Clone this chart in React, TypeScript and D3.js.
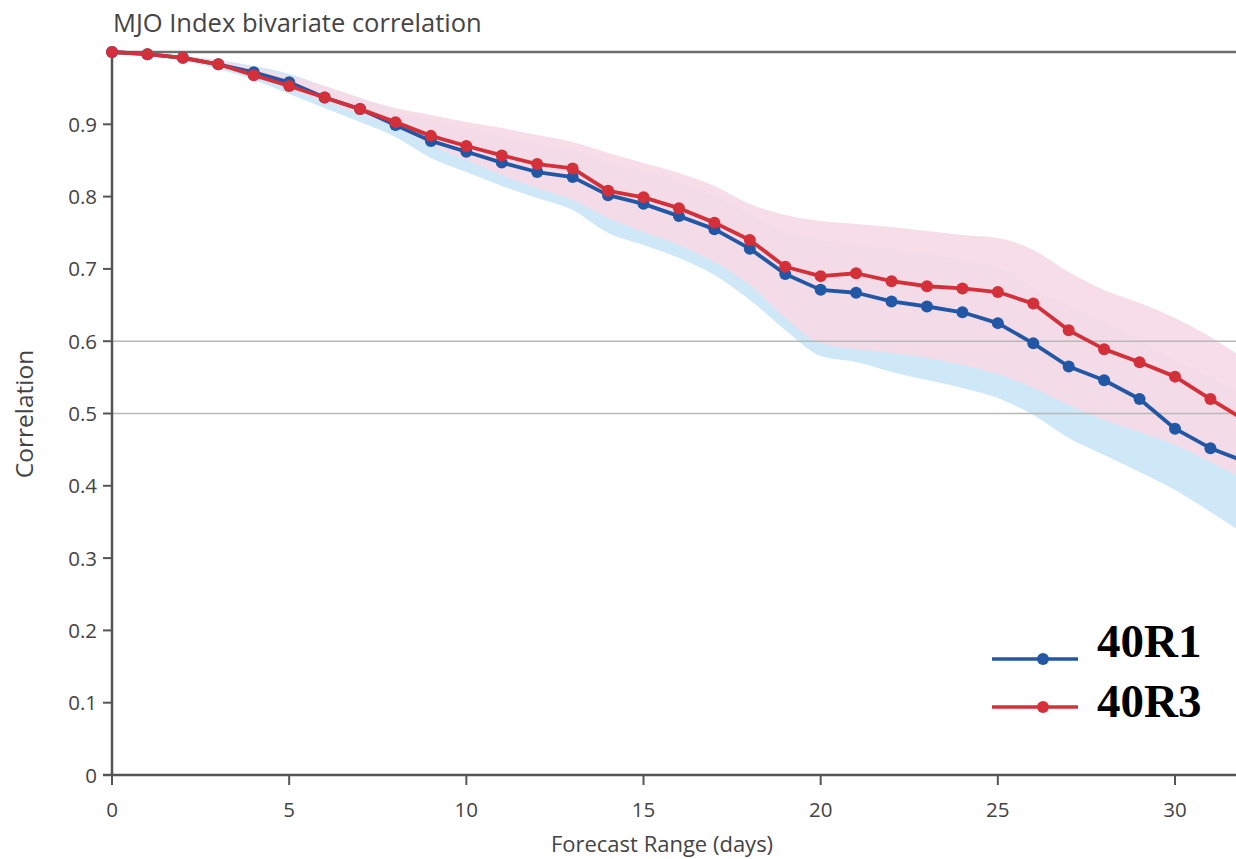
import React from "react";
import * as d3 from "d3";

const days = d3.range(0, 33);
const r1 = [1.0, 0.997, 0.992, 0.983, 0.972, 0.958, 0.937, 0.921, 0.899, 0.877, 0.862, 0.847, 0.834, 0.827, 0.802, 0.79, 0.773, 0.755, 0.728, 0.693, 0.671, 0.667, 0.655, 0.648, 0.64, 0.625, 0.597, 0.565, 0.546, 0.52, 0.479, 0.452, 0.433];
const r3 = [1.0, 0.997, 0.992, 0.983, 0.968, 0.953, 0.937, 0.921, 0.903, 0.884, 0.87, 0.857, 0.845, 0.839, 0.808, 0.799, 0.784, 0.764, 0.74, 0.703, 0.69, 0.694, 0.683, 0.676, 0.673, 0.668, 0.652, 0.615, 0.589, 0.571, 0.551, 0.52, 0.49];
const r1Hi = [1.0, 0.9986, 0.9945, 0.9889, 0.9806, 0.9696, 0.953, 0.9364, 0.9198, 0.9059, 0.8949, 0.8838, 0.8728, 0.8645, 0.8479, 0.834, 0.8202, 0.8008, 0.7759, 0.751, 0.74, 0.7344, 0.7261, 0.7206, 0.7123, 0.7012, 0.6736, 0.65, 0.6266, 0.6017, 0.574, 0.5491, 0.5256];
const r1Lo = [1.0, 0.9959, 0.9876, 0.9765, 0.9613, 0.9419, 0.9225, 0.9032, 0.8824, 0.8534, 0.834, 0.8147, 0.7981, 0.7815, 0.7497, 0.7331, 0.7151, 0.6916, 0.657, 0.6155, 0.5795, 0.5712, 0.5574, 0.5463, 0.5353, 0.5214, 0.4979, 0.4661, 0.4426, 0.4191, 0.3942, 0.3638, 0.332];
const r3Hi = [1.0, 0.9986, 0.9945, 0.9876, 0.9779, 0.9668, 0.953, 0.9364, 0.9225, 0.9129, 0.9032, 0.8949, 0.8852, 0.8755, 0.8603, 0.8465, 0.8326, 0.8147, 0.7898, 0.7746, 0.7663, 0.7621, 0.758, 0.7524, 0.7469, 0.7427, 0.7261, 0.6957, 0.6708, 0.6528, 0.6321, 0.6058, 0.574];
const r3Lo = [1.0, 0.9959, 0.9889, 0.9793, 0.9668, 0.9502, 0.9308, 0.9142, 0.8963, 0.8714, 0.8506, 0.8299, 0.8119, 0.7953, 0.7704, 0.751, 0.7331, 0.7095, 0.6777, 0.6321, 0.5975, 0.5892, 0.5837, 0.5768, 0.5671, 0.5546, 0.5353, 0.5118, 0.491, 0.4744, 0.4564, 0.4329, 0.408];
const yTicks = [0, 0.1, 0.2, 0.3, 0.4, 0.5, 0.6, 0.7, 0.8, 0.9];
const xTicks = [0, 5, 10, 15, 20, 25, 30];
const gridVals = [0.5, 0.6];
const seriesNames = ["40R1", "40R3"];

const W = 1236;
const H = 859;
const FONT = "'Open Sans', 'Noto Sans', sans-serif";
const BLUE = "#2257a6";
const RED = "#d3303a";

export default function App() {
  const x = d3.scaleLinear().domain([0, 30]).range([112, 1175]);
  const y = d3.scaleLinear().domain([0, 1]).range([775, 52]);

  const line = (vals: number[]) =>
    d3.line<number>().x((_, i) => x(days[i])).y((v) => y(v))(vals) || "";
  const band = (lo: number[], hi: number[]) =>
    d3
      .area<number>()
      .x((d) => x(d))
      .y0((d) => y(lo[d]))
      .y1((d) => y(hi[d]))
      .curve(d3.curveMonotoneX)(days) || "";

  const series = [
    { name: seriesNames[0], vals: r1, color: BLUE },
    { name: seriesNames[1], vals: r3, color: RED },
  ];

  return (
    <svg
      width={W}
      height={H}
      style={{ position: "absolute", left: 0, top: 0, background: "#fff" }}
    >
      <rect x={0} y={0} width={W} height={H} fill="#fff" />
      <text x={113} y={32} fontFamily={FONT} fontSize={25.5} fill="#444">
        MJO Index bivariate correlation
      </text>

      <path d={band(r1Lo, r1Hi)} fill="#cfe8f8" />
      <path d={band(r3Lo, r3Hi)} fill="#f5dae5" opacity={0.93} />

      {gridVals.map((g) => (
        <line key={g} x1={x(0)} x2={W} y1={y(g)} y2={y(g)} stroke="#b8b8b8" strokeWidth={1.5} />
      ))}

      <line x1={x(0)} x2={W} y1={y(1)} y2={y(1)} stroke="#6e6e6e" strokeWidth={2.5} />
      <line x1={x(0)} x2={x(0)} y1={y(1)} y2={y(0)} stroke="#555" strokeWidth={2.5} />
      <line x1={103} x2={W} y1={y(0)} y2={y(0)} stroke="#555" strokeWidth={2.5} />

      {yTicks.map((t) => (
        <g key={t}>
          <line x1={103} x2={x(0)} y1={y(t)} y2={y(t)} stroke="#555" strokeWidth={2} />
          <text x={97} y={y(t) + 7.5} textAnchor="end" fontFamily={FONT} fontSize={20.5} fill="#444">
            {t === 0 ? "0" : t.toFixed(1)}
          </text>
        </g>
      ))}
      {xTicks.map((t) => (
        <g key={t}>
          <line x1={x(t)} x2={x(t)} y1={y(0)} y2={y(0) + 10} stroke="#555" strokeWidth={2} />
          <text x={x(t)} y={817} textAnchor="middle" fontFamily={FONT} fontSize={20.5} fill="#444">
            {t}
          </text>
        </g>
      ))}
      <text x={662} y={852} textAnchor="middle" fontFamily={FONT} fontSize={22} fill="#444">
        Forecast Range (days)
      </text>
      <text
        transform={`translate(33,414) rotate(-90)`}
        textAnchor="middle"
        fontFamily={FONT}
        fontSize={24.5}
        fill="#444"
      >
        Correlation
      </text>

      {series.map((s) => (
        <g key={s.name}>
          <path d={line(s.vals)} fill="none" stroke={s.color} strokeWidth={3.8} strokeLinejoin="round" />
          {s.vals.map((v, i) => (
            <circle key={i} cx={x(days[i])} cy={y(v)} r={6} fill={s.color} />
          ))}
        </g>
      ))}

      {series.map((s, i) => {
        const ly = 659 + i * 48;
        return (
          <g key={"lg" + s.name}>
            <line x1={992} x2={1078} y1={ly} y2={ly} stroke={s.color} strokeWidth={3.5} />
            <circle cx={1043} cy={ly} r={6} fill={s.color} />
            <text
              x={1097}
              y={i === 0 ? 657 : 717}
              fontFamily="'Liberation Serif', 'Times New Roman', serif"
              fontWeight="bold"
              fontSize={47}
              fill="#000"
            >
              {s.name}
            </text>
          </g>
        );
      })}
    </svg>
  );
}
